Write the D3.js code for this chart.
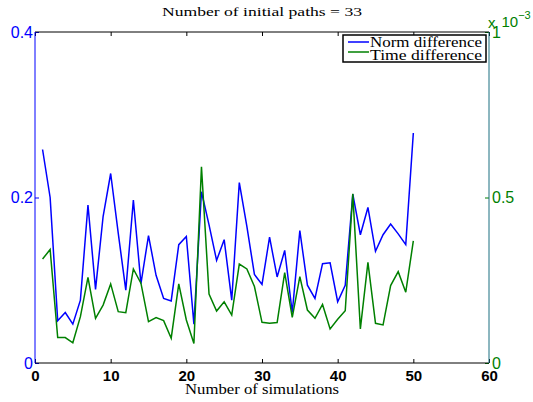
<!DOCTYPE html>
<html>
<head>
<meta charset="utf-8">
<script src="https://cdn.jsdelivr.net/npm/d3@7"></script>
<style>
  body { margin: 0; background: #fff; }
  svg { display: block; }
</style>
</head>
<body>
<div id="chart"></div>
<script>
// data
const sims = d3.range(1, 51);
const normDiff = [0.258, 0.200, 0.051, 0.061, 0.047, 0.076, 0.191, 0.089, 0.177, 0.229,
                  0.157, 0.088, 0.197, 0.096, 0.154, 0.106, 0.078, 0.075, 0.143, 0.153,
                  0.047, 0.207, 0.167, 0.124, 0.149, 0.076, 0.218, 0.165, 0.107, 0.095,
                  0.152, 0.104, 0.136, 0.061, 0.160, 0.094, 0.078, 0.120, 0.121, 0.074,
                  0.094, 0.204, 0.155, 0.188, 0.135, 0.155, 0.168, 0.156, 0.143, 0.278];
// in units of 1e-3
const timeDiff = [0.314, 0.343, 0.077, 0.077, 0.061, 0.140, 0.259, 0.135, 0.175, 0.239,
                  0.155, 0.152, 0.284, 0.241, 0.125, 0.137, 0.128, 0.075, 0.239, 0.130,
                  0.059, 0.593, 0.208, 0.157, 0.185, 0.145, 0.299, 0.284, 0.231, 0.123,
                  0.120, 0.122, 0.273, 0.138, 0.261, 0.160, 0.135, 0.177, 0.103, 0.132,
                  0.158, 0.511, 0.103, 0.304, 0.120, 0.115, 0.234, 0.276, 0.214, 0.369];
const xTicks = [0, 10, 20, 30, 40, 50, 60];
const yLeftTicks = [0, 0.2, 0.4];
const yRightTicks = [0, 0.5, 1];
const seriesNames = ['Norm difference', 'Time difference'];

const width = 533, height = 402;
const margin = { left: 35, right: 44, top: 32, bottom: 39 };
const blue = '#0000ff', green = '#008000', teal = '#1a6f80';

const svg = d3.select('#chart')
  .append('svg')
  .attr('width', width)
  .attr('height', height);

const x = d3.scaleLinear().domain([0, 60]).range([margin.left, width - margin.right]);
const yL = d3.scaleLinear().domain([0, 0.4]).range([height - margin.bottom, margin.top]);
const yR = d3.scaleLinear().domain([0, 1]).range([height - margin.bottom, margin.top]);

// TITLE
svg.append('text')
  .attr('x', (x.range()[0] + x.range()[1]) / 2)
  .attr('y', 16)
  .attr('text-anchor', 'middle')
  .style('font-family', 'Liberation Serif, serif')
  .style('font-size', '13px')
  .attr('textLength', 200)
  .attr('lengthAdjust', 'spacingAndGlyphs')
  .text('Number of initial paths = 33');

// AXES (ticks point inward)
const gx = svg.append('g')
  .attr('transform', `translate(0, ${yL.range()[0]})`)
  .call(d3.axisBottom(x).tickValues(xTicks).tickSize(-4).tickPadding(7).tickFormat(d3.format('d')));
gx.select('.domain').remove();
gx.selectAll('text')
  .style('font-family', 'Liberation Sans, Arial, sans-serif')
  .style('font-size', '15px')
  .style('font-weight', 'bold')
  .attr('fill', '#000');

const gxTop = svg.append('g')
  .attr('transform', `translate(0, ${yL.range()[1]})`)
  .call(d3.axisTop(x).tickValues(xTicks).tickSize(-4).tickFormat(''));
gxTop.select('.domain').remove();

const gyL = svg.append('g')
  .attr('transform', `translate(${x.range()[0]}, 0)`)
  .call(d3.axisLeft(yL).tickValues(yLeftTicks).tickSize(-4).tickPadding(2).tickFormat(d3.format('')));
gyL.select('.domain').remove();
gyL.selectAll('line').attr('stroke', blue);
gyL.selectAll('text')
  .style('font-family', 'Liberation Sans, Arial, sans-serif')
  .style('font-size', '16px')
  .attr('fill', blue);

const gyR = svg.append('g')
  .attr('transform', `translate(${x.range()[1]}, 0)`)
  .call(d3.axisRight(yR).tickValues(yRightTicks).tickSize(-4).tickPadding(3).tickFormat(d3.format('')));
gyR.select('.domain').remove();
gyR.selectAll('line').attr('stroke', green);
gyR.selectAll('text')
  .style('font-family', 'Liberation Sans, Arial, sans-serif')
  .style('font-size', '16px')
  .attr('fill', green);

// SPINES
const [x0, x1] = x.range(), [yb, yt] = yL.range();
svg.append('line').attr('x1', x0).attr('x2', x1).attr('y1', yt).attr('y2', yt).attr('stroke', '#000');
svg.append('line').attr('x1', x0).attr('x2', x1).attr('y1', yb).attr('y2', yb).attr('stroke', '#000');
svg.append('line').attr('x1', x0).attr('x2', x0).attr('y1', yt).attr('y2', yb).attr('stroke', blue);
svg.append('line').attr('x1', x1).attr('x2', x1).attr('y1', yt).attr('y2', yb).attr('stroke', teal);

// offset text for right axis
const off = svg.append('text')
  .attr('x', x1 - 1)
  .attr('y', 28)
  .style('font-family', 'Liberation Sans, Arial, sans-serif')
  .style('font-size', '15px')
  .attr('fill', green);
off.append('tspan').text('x');
off.append('tspan').attr('dx', 6).attr('dy', -1).text('10');
off.append('tspan').attr('dy', -8).style('font-size', '11px').text('\u22123');

// LINES
const lineL = d3.line().x((d, i) => x(sims[i])).y(d => yL(d));
const lineR = d3.line().x((d, i) => x(sims[i])).y(d => yR(d));

svg.append('path')
  .datum(normDiff)
  .attr('fill', 'none')
  .attr('stroke', blue)
  .attr('stroke-width', 1.5)
  .attr('d', lineL);

svg.append('path')
  .datum(timeDiff)
  .attr('fill', 'none')
  .attr('stroke', green)
  .attr('stroke-width', 1.5)
  .attr('d', lineR);

// X LABEL
svg.append('text')
  .attr('x', (x0 + x1) / 2)
  .attr('y', 394)
  .attr('text-anchor', 'middle')
  .style('font-family', 'Liberation Serif, serif')
  .style('font-size', '14px')
  .attr('textLength', 154)
  .attr('lengthAdjust', 'spacingAndGlyphs')
  .text('Number of simulations');

// LEGEND
const legend = svg.append('g').attr('transform', 'translate(343, 35)');
legend.append('rect')
  .attr('width', 143)
  .attr('height', 27)
  .attr('fill', '#fff')
  .attr('stroke', '#000')
  .attr('stroke-width', 1.5);
const colors = [blue, green];
seriesNames.forEach((name, i) => {
  const yy = 7 + i * 10;
  legend.append('line')
    .attr('x1', 5).attr('x2', 26)
    .attr('y1', yy).attr('y2', yy)
    .attr('stroke', colors[i])
    .attr('stroke-width', 1.5);
  legend.append('text')
    .attr('x', 27)
    .attr('y', 12 + i * 13)
    .style('font-family', 'Liberation Serif, serif')
    .style('font-size', '14px')
    .attr('textLength', 112)
    .attr('lengthAdjust', 'spacingAndGlyphs')
    .text(name);
});
</script>
</body>
</html>
